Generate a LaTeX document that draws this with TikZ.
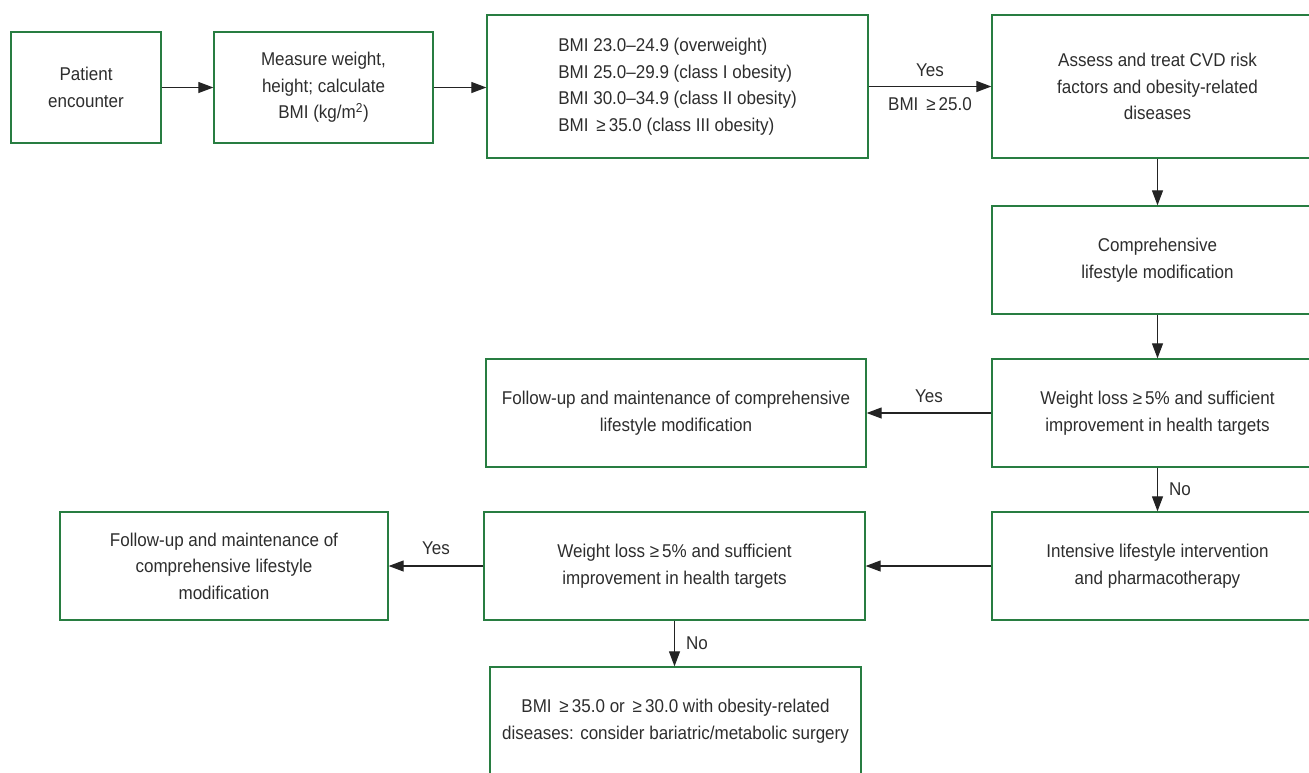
\documentclass[tikz,border=0pt]{standalone}
\usepackage{fontspec}
\setmainfont{Liberation Sans}[FakeStretch=0.92]
\usetikzlibrary{arrows.meta, positioning}
\definecolor{bGreen}{RGB}{40, 125, 65}
\definecolor{tDark}{RGB}{45, 45, 45}
\definecolor{aDark}{RGB}{35, 35, 35}

\begin{document}
\begin{tikzpicture}[
    x=1pt, y=-1pt,
    font=\fontsize{18.5}{26.5}\selectfont,
    >={Triangle[length=15pt, width=11pt]},
    box/.style={
        draw=bGreen,
        line width=1.3pt,
        align=center,
        text=tDark,
        inner sep=0pt,
        minimum height=108pt
    },
    arrow/.style={->, line width=1.1pt, color=aDark},
    lbl/.style={text=tDark, inner sep=2pt}
]

\useasboundingbox (0,0) rectangle (1309,772);

% Top row
\node[box, minimum width=150pt, minimum height=111pt] (enc) at (86,87.5) {Patient\\encounter};
\node[box, minimum width=219pt, minimum height=111pt] (meas) at (323.5,87.5) {Measure weight,\\height; calculate\\BMI (kg/m\textsuperscript{2})};
\node[box, minimum width=381pt, minimum height=143pt, align=left] (bmi) at (677.5,86.5) {
    BMI 23.0–24.9 (overweight)\\
    BMI 25.0–29.9 (class I obesity)\\
    BMI 30.0–34.9 (class II obesity)\\
    BMI \,≥\,35.0 (class III obesity)
};
\node[box, minimum width=331pt, minimum height=143pt] (assess) at (1157.5,86.5) {Assess and treat CVD risk\\factors and obesity-related\\diseases};

% Right column
\node[box, minimum width=331pt] (comp) at (1157.5,260) {Comprehensive\\lifestyle modification};
\node[box, minimum width=331pt] (wl_a) at (1157.5,413) {Weight loss ≥\,5\% and sufficient\\improvement in health targets};
\node[box, minimum width=331pt] (intens) at (1157.5,566) {Intensive lifestyle intervention\\and pharmacotherapy};

% Middle and left
\node[box, minimum width=380pt] (fol_a) at (676,413) {Follow-up and maintenance of comprehensive\\lifestyle modification};
\node[box, minimum width=381pt] (wl_b) at (674.5,566) {Weight loss ≥\,5\% and sufficient\\improvement in health targets};
\node[box, minimum width=328pt] (fol_b) at (224,566) {Follow-up and maintenance of\\comprehensive lifestyle\\modification};
\node[box, minimum width=371pt] (surg) at (675.5,721) {BMI \,≥\,35.0 or \,≥\,30.0 with obesity-related\\diseases: consider bariatric/metabolic surgery};

\draw[arrow] (enc) -- (meas);
\draw[arrow] (meas.east) -- (meas.east -| bmi.west);
\draw[arrow] (bmi) -- node[lbl, above=7pt] {Yes} node[lbl, below=9pt] {BMI \,≥\,25.0} (assess);
\draw[arrow] (assess) -- (comp);
\draw[arrow] (comp) -- (wl_a);
\draw[arrow] (wl_a) -- node[lbl, above=8pt] {Yes} (fol_a);
\draw[arrow] (wl_a) -- node[lbl, right=9pt] {No} (intens);
\draw[arrow] (intens) -- (wl_b);
\draw[arrow] (wl_b) -- node[lbl, above=9pt] {Yes} (fol_b);
\draw[arrow] (wl_b.south) -- node[lbl, right=9pt] {No} (wl_b.south |- surg.north);

\end{tikzpicture}
\end{document}
